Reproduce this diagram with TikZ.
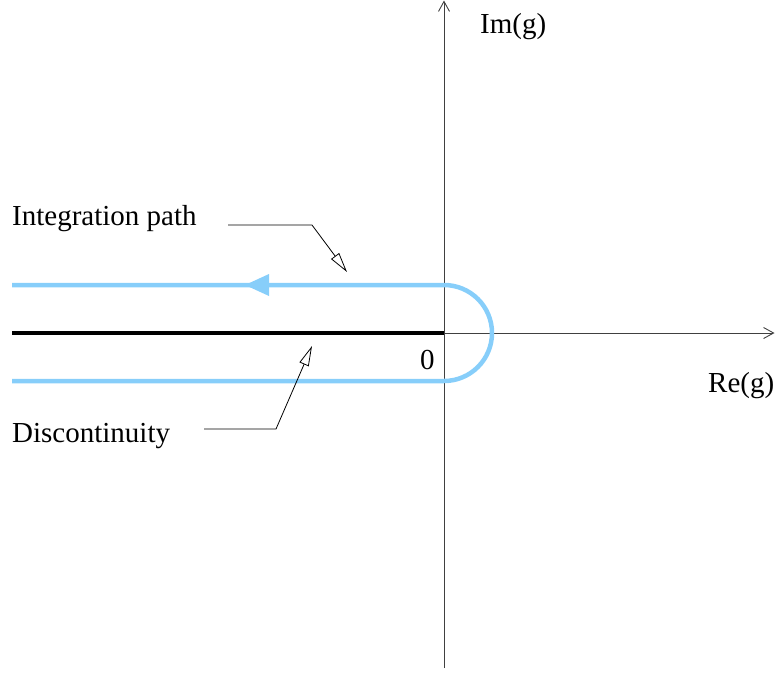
\documentclass[tikz,border=0pt]{standalone}
\usepackage{fontspec}
\setmainfont{Liberation Serif}
\usetikzlibrary{arrows.meta}
\definecolor{pathblue}{RGB}{135,206,250}
\begin{document}
\begin{tikzpicture}[x=1pt,y=-1pt,
  lbl/.style={font=\fontsize{29}{34}\selectfont, inner sep=0pt},
  axis/.style={line width=0.9pt, draw=black!75, -{Straight Barb[length=10pt,width=11pt,line width=0.9pt]}},
  leader/.style={line width=0.8pt, -{Triangle[open,length=20pt,width=10pt,line width=0.8pt]}},
  contour/.style={draw=pathblue, line width=4.5pt},
]
\useasboundingbox (0,0) rectangle (775,675);
% axes
\coordinate (O) at (444,333);
\coordinate (ybot) at (444,668);
\coordinate (ytop) at (444,0.5);
\coordinate (xend) at (774.5,333);
\draw[axis] (ybot) -- (ytop);
\draw[axis] (O) -- (xend);
% discontinuity
\coordinate (dleft) at (12,333);
\draw[line width=4pt] (dleft) -- (O);
% contour
\coordinate (tl) at (12,285);
\coordinate (tr) at (444,285);
\coordinate (br) at (444,381);
\coordinate (bl) at (12,381);
\draw[contour] (tl) -- (tr) arc[start angle=-90, end angle=90, radius=48] -- (bl);
\fill[pathblue] (245,285) -- (269,274) -- (269,296) -- cycle;
% labels
\node[lbl, anchor=base west] (ip) at (12,225) {Integration path};
\node[lbl, anchor=base west] (dc) at (12,442) {Discontinuity};
\node[lbl, anchor=base west] (im) at (480,33) {Im(g)};
\node[lbl, anchor=base west] (re) at (708,392) {Re(g)};
\node[lbl, anchor=base west] (zero) at (420,369) {0};
% leaders
\coordinate (ipa) at (228,225);
\coordinate (ipb) at (312,225);
\coordinate (ipt) at (347,272);
\draw[leader] (ipa) -- (ipb) -- (ipt);
\coordinate (dca) at (204,429);
\coordinate (dcb) at (276,429);
\coordinate (dct) at (312,346);
\draw[leader] (dca) -- (dcb) -- (dct);
\end{tikzpicture}
\end{document}
